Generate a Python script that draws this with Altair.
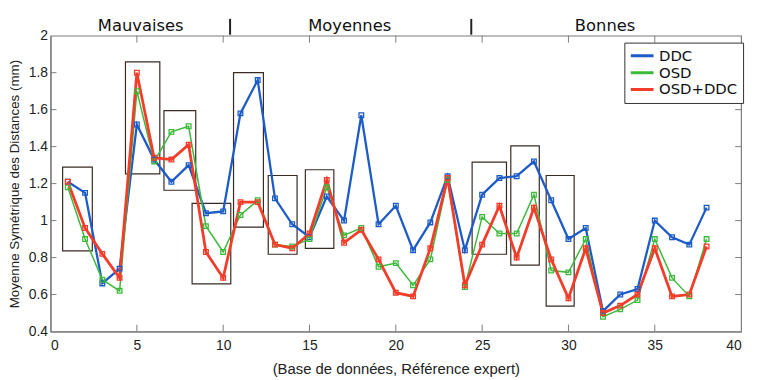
import altair as alt
import pandas as pd

# ---- data ----
idx = list(range(1, 39))
ddc = [1.21, 1.15, 0.66, 0.74, 1.52, 1.33, 1.21, 1.30, 1.04, 1.05,
       1.58, 1.76, 1.12, 0.98, 0.91, 1.13, 1.00, 1.57, 0.98, 1.08,
       0.84, 0.99, 1.24, 0.84, 1.14, 1.23, 1.24, 1.32, 1.11, 0.90,
       0.96, 0.51, 0.60, 0.63, 1.00, 0.91, 0.87, 1.07]
osd = [1.18, 0.90, 0.68, 0.62, 1.70, 1.32, 1.48, 1.51, 0.97, 0.83,
       1.03, 1.11, 0.87, 0.86, 0.90, 1.18, 0.92, 0.96, 0.75, 0.77,
       0.65, 0.79, 1.22, 0.64, 1.02, 0.93, 0.93, 1.14, 0.73, 0.72,
       0.90, 0.48, 0.52, 0.57, 0.90, 0.69, 0.59, 0.90]
osd_ddc = [1.21, 0.96, 0.82, 0.69, 1.80, 1.34, 1.33, 1.41, 0.83, 0.69,
           1.10, 1.10, 0.87, 0.85, 0.93, 1.22, 0.88, 0.95, 0.79, 0.61,
           0.59, 0.85, 1.23, 0.65, 0.87, 1.08, 0.80, 1.07, 0.79, 0.58,
           0.85, 0.50, 0.54, 0.60, 0.85, 0.59, 0.60, 0.86]

series_names = ["DDC", "OSD", "OSD+DDC"]
series_colors = ["#1d5cc6", "#3cba3c", "#f23d2a"]
series_widths = [2.3, 1.5, 2.8]

box_x1 = [0.70, 4.34, 6.57, 8.20, 10.60, 12.61, 14.76, 24.42, 26.66, 28.71]
box_x2 = [2.42, 6.33, 8.41, 10.44, 12.33, 14.28, 16.41, 26.41, 28.31, 30.33]
box_y1 = [0.836, 1.253, 1.164, 0.658, 0.965, 0.818, 0.850, 0.818, 0.759, 0.537]
box_y2 = [1.289, 1.858, 1.595, 1.093, 1.800, 1.244, 1.275, 1.316, 1.404, 1.244]

x_ticks = [0, 5, 10, 15, 20, 25, 30, 35, 40]
y_ticks = [0.4, 0.6, 0.8, 1.0, 1.2, 1.4, 1.6, 1.8, 2.0]
x_inner_ticks = [5, 10, 15, 20, 25, 30, 35]
y_inner_ticks = [0.6, 0.8, 1.0, 1.2, 1.4, 1.6, 1.8]

section_names = ["Mauvaises", "Moyennes", "Bonnes"]
section_centers = [5.22, 17.33, 32.12]
separator_positions = [10.4, 24.37]

x_title = "(Base de données, Référence expert)"
y_title = "Moyenne Symétrique des Distances (mm)"

# ---- tables ----
rows = []
for name, vals, sw in zip(series_names, [ddc, osd, osd_ddc], series_widths):
    for i, v in zip(idx, vals):
        rows.append({"idx": i, "val": v, "series": name, "sw": sw})
df = pd.DataFrame(rows)
boxes = pd.DataFrame({"bx1": box_x1, "bx2": box_x2, "by1": box_y1, "by2": box_y2})
xt = pd.DataFrame({"idx": x_inner_ticks})
yt = pd.DataFrame({"val": y_inner_ticks})
sections = pd.DataFrame({"idx": section_centers, "name": section_names})
seps = pd.DataFrame({"idx": separator_positions})

W, H = 698, 299
FONT = "Liberation Sans"
AX = "#7d7d7d"

xscale = alt.Scale(domain=[0, 40], nice=False, zero=False)
yscale = alt.Scale(domain=[0.4, 2.0], nice=False, zero=False)
xaxis = alt.Axis(values=x_ticks, title=x_title, ticks=False, labelPadding=7,
                 titlePadding=9, grid=False, labelFont=FONT, labelFontSize=14,
                 labelColor="#222", titleFont=FONT, titleFontSize=15,
                 titleColor="#222", titleFontWeight="normal",
                 domainColor=AX, domainWidth=1.2)
yaxis = alt.Axis(values=y_ticks, title=y_title, format="~g", ticks=False,
                 labelPadding=3, titlePadding=7, grid=False, labelFont=FONT,
                 labelFontSize=14, labelColor="#222", titleFont=FONT,
                 titleFontSize=13.5, titleColor="#222", titleFontWeight="normal",
                 domainColor=AX, domainWidth=1.2)


def X(field):
    return alt.X(field, type="quantitative", scale=xscale, axis=xaxis)


def Y(field):
    return alt.Y(field, type="quantitative", scale=yscale, axis=yaxis)


color = alt.Color("series:N", scale=alt.Scale(domain=series_names, range=series_colors),
                  legend=alt.Legend(title=None, orient="none", legendX=580, legendY=7,
                                    symbolType="stroke", symbolSize=529,
                                    symbolStrokeWidth=3, labelFont="DejaVu Sans",
                                    labelFontSize=15, labelColor="#111",
                                    labelOffset=4, padding=5, rowPadding=0,
                                    clipHeight=16.7,
                                    strokeColor="#333", fillColor="white",
                                    symbolOffset=0))

box_layer = alt.Chart(boxes).mark_rect(fill="white", fillOpacity=0, stroke="#3a2a24",
                                       strokeWidth=1.2).encode(
    x=X("bx1"), x2="bx2", y=Y("by1"), y2="by2")

lines = alt.Chart(df).mark_line().encode(
    x=X("idx"), y=Y("val"), color=color,
    strokeWidth=alt.StrokeWidth("sw:Q", scale=None))

points = alt.Chart(df).mark_point(shape="square", filled=False, size=22,
                                  strokeWidth=1.3, opacity=1).encode(
    x=X("idx"), y=Y("val"),
    color=alt.Color("series:N", scale=alt.Scale(domain=series_names, range=series_colors),
                    legend=None))

tick_b = alt.Chart(xt).mark_rule(color=AX, strokeWidth=1).encode(
    x=X("idx"), y=alt.value(H), y2=alt.value(H - 7))
tick_t = alt.Chart(xt).mark_rule(color=AX, strokeWidth=1).encode(
    x=X("idx"), y=alt.value(0), y2=alt.value(7))
tick_l = alt.Chart(yt).mark_rule(color=AX, strokeWidth=1).encode(
    y=Y("val"), x=alt.value(0), x2=alt.value(6))
tick_r = alt.Chart(yt).mark_rule(color=AX, strokeWidth=1).encode(
    y=Y("val"), x=alt.value(W), x2=alt.value(W - 6))

sec_text = alt.Chart(sections).mark_text(font="DejaVu Sans", fontSize=16.5,
                                         color="#111", baseline="alphabetic",
                                         align="center").encode(
    x=X("idx"), y=alt.value(-5), text="name:N")
sep_rule = alt.Chart(seps).mark_rule(color="#222", strokeWidth=2).encode(
    x=X("idx"), y=alt.value(-17), y2=alt.value(-1))

chart = alt.layer(box_layer, lines, points, tick_b, tick_t, tick_l, tick_r,
                  sec_text, sep_rule).properties(
    width=W, height=H,
    autosize=alt.AutoSizeParams(type="none"),
    padding={"left": 43, "top": 26, "right": 9, "bottom": 46},
    background="white",
).configure_view(stroke=AX, strokeWidth=1.2)

chart.save("out.html", embed_options={"renderer": "svg", "actions": False})
